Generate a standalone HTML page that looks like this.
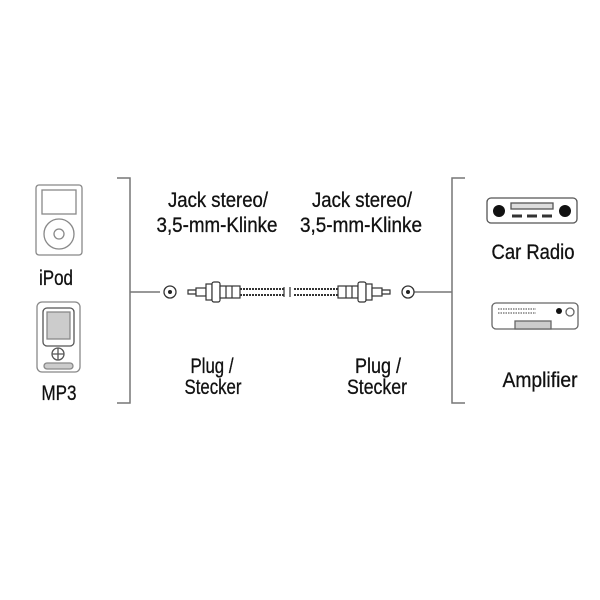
<!DOCTYPE html>
<html><head><style>
html,body{margin:0;padding:0;background:#fff;}
svg{display:block}
text{font-family:"Liberation Sans",sans-serif;font-size:21px;fill:#111;text-anchor:middle;stroke:#111;stroke-width:0.3}
</style></head><body>
<svg width="600" height="600" viewBox="0 0 600 600">
<g stroke="#777" stroke-width="1.5" fill="none">
<path d="M117 178 H130 V403 H117"/>
<path d="M130 292 H160"/>
<path d="M465 178 H452 V403 H465"/>
<path d="M412 292 H452"/>
</g>
<g stroke="#333" stroke-width="1.3" fill="#fff">
<circle cx="170" cy="292" r="6"/><circle cx="408" cy="292" r="6"/>
</g>
<circle cx="170" cy="292" r="2" fill="#222"/><circle cx="408" cy="292" r="2" fill="#222"/>
<g stroke="#333" stroke-width="1.2" fill="#fff">
<path d="M188 290 h8 v4 h-8 z"/>
<rect x="196" y="288" width="10" height="8"/>
<rect x="206" y="284" width="6" height="16"/>
<rect x="212" y="282" width="8" height="20" rx="2"/>
<rect x="220" y="286" width="20" height="12"/>
<path d="M226 286 v12 M232 286 v12"/>
<path d="M240 289 h44 M240 295 h44" stroke-width="2" stroke-dasharray="2 1"/>
<path d="M284 287 v10 M290 287 v10"/>
<path d="M294 289 h44 M294 295 h44" stroke-width="2" stroke-dasharray="2 1"/>
<rect x="338" y="286" width="20" height="12"/>
<path d="M346 286 v12 M352 286 v12"/>
<rect x="358" y="282" width="8" height="20" rx="2"/>
<rect x="366" y="284" width="6" height="16"/>
<rect x="372" y="288" width="10" height="8"/>
<path d="M382 290 h8 v4 h-8 z"/>
</g>
<g stroke="#888" stroke-width="1.3" fill="#fff">
<rect x="36" y="185" width="46" height="70" rx="3"/>
<rect x="42" y="190" width="34" height="24"/>
<circle cx="59" cy="234" r="15"/><circle cx="59" cy="234" r="5"/>
<rect x="37" y="302" width="43" height="70" rx="5"/>
<rect x="43" y="308" width="31" height="38" rx="4" stroke="#555"/>
<rect x="47" y="312" width="23" height="27" fill="#ccc"/>
<circle cx="58" cy="354" r="6" stroke="#555"/>
<path d="M52 354h12M58 348v12" stroke="#555"/>
<rect x="44" y="363" width="29" height="6" rx="3" fill="#ccc"/>
</g>
<g stroke="#555" stroke-width="1.3" fill="#fff">
<rect x="487" y="198" width="90" height="25" rx="4"/>
<rect x="511" y="203" width="42" height="6" fill="#ddd"/>
<path d="M512 216h10M527 216h10M542 216h10" stroke-width="3" stroke="#333"/>
</g>
<circle cx="499" cy="211" r="6" fill="#111"/><circle cx="565" cy="211" r="6" fill="#111"/>
<g stroke="#666" stroke-width="1.3" fill="#fff">
<rect x="492" y="303" width="86" height="26" rx="4"/>
<path d="M498 309h38M498 313h38" stroke-dasharray="1.5 1"/>
<rect x="515" y="321" width="36" height="8" fill="#ccc"/>
<circle cx="570" cy="312" r="4"/>
</g>
<circle cx="559" cy="311" r="3" fill="#111"/>
<text x="218" y="207" textLength="100" lengthAdjust="spacingAndGlyphs">Jack stereo/</text>
<text x="217" y="232" textLength="121" lengthAdjust="spacingAndGlyphs">3,5-mm-Klinke</text>
<text x="362" y="207" textLength="100" lengthAdjust="spacingAndGlyphs">Jack stereo/</text>
<text x="361" y="232" textLength="122" lengthAdjust="spacingAndGlyphs">3,5-mm-Klinke</text>
<text x="212" y="373" textLength="43" lengthAdjust="spacingAndGlyphs">Plug /</text>
<text x="213" y="394" textLength="57" lengthAdjust="spacingAndGlyphs">Stecker</text>
<text x="378" y="373" textLength="46" lengthAdjust="spacingAndGlyphs">Plug /</text>
<text x="377" y="394" textLength="60" lengthAdjust="spacingAndGlyphs">Stecker</text>
<text x="56" y="285" textLength="34" lengthAdjust="spacingAndGlyphs">iPod</text>
<text x="59" y="400" textLength="35" lengthAdjust="spacingAndGlyphs">MP3</text>
<text x="533" y="259" textLength="83" lengthAdjust="spacingAndGlyphs">Car Radio</text>
<text x="540" y="387" textLength="75" lengthAdjust="spacingAndGlyphs">Amplifier</text>
</svg>
</body></html>
